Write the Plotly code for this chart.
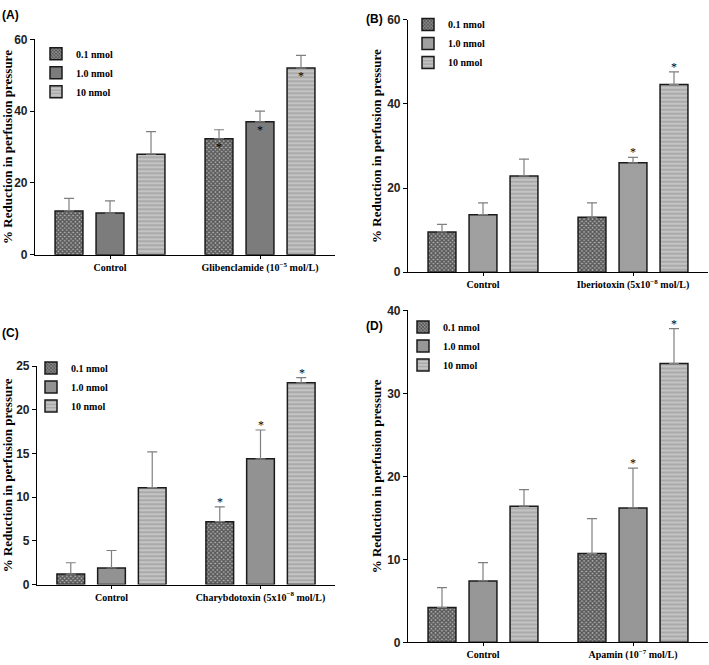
import plotly.graph_objects as go

doses = ["0.1 nmol", "1.0 nmol", "10 nmol"]

# panel A
A_groups = ["Control", "Glibenclamide (10<sup>−5</sup> mol/L)"]
A_means = [[12.2, 32.3], [11.6, 37.0], [28.0, 52.0]]
A_errs = [[3.5, 2.5], [3.4, 3.0], [6.3, 3.5]]
A_star = [[0, 1], [0, 1], [0, 1]]

# panel B
B_groups = ["Control", "Iberiotoxin (5x10<sup>−8</sup> mol/L)"]
B_means = [[9.6, 13.1], [13.7, 26.0], [22.9, 44.6]]
B_errs = [[1.8, 3.4], [2.8, 1.3], [4.0, 3.0]]
B_star = [[0, 0], [0, 1], [0, 1]]

# panel C
C_groups = ["Control", "Charybdotoxin (5x10<sup>−8</sup> mol/L)"]
C_means = [[1.2, 7.2], [1.9, 14.4], [11.1, 23.1]]
C_errs = [[1.3, 1.7], [2.0, 3.3], [4.1, 0.6]]
C_star = [[0, 1], [0, 1], [0, 1]]

# panel D
D_groups = ["Control", "Apamin (10<sup>−7</sup> mol/L)"]
D_means = [[4.2, 10.7], [7.4, 16.2], [16.4, 33.6]]
D_errs = [[2.4, 4.2], [2.2, 4.8], [2.0, 4.2]]
D_star = [[0, 0], [0, 1], [0, 1]]

W, H = 709, 665
serif = "Liberation Serif"
sans = "Liberation Sans"


def pats(mid):
    return [
        dict(shape="x", fgcolor="#000000", bgcolor="#b0b0b0", size=3, solidity=0.7),
        dict(shape=".", fgcolor="#555555", bgcolor=mid, size=2, solidity=0.4),
        dict(shape="-", fgcolor="#8a8a8a", bgcolor="#c4c4c4", size=4, solidity=0.45),
    ]


panels = [
    # label, groups, means, errs, stars, ymax, dtick, x px range, y px range(bottom, top), legend pos, label pos, star inside, bar2 tone
    ("(A)", A_groups, A_means, A_errs, A_star, 60, 20, (35, 335), (253, 33), (36, 33), (0, 8), True, "#858585"),
    ("(B)", B_groups, B_means, B_errs, B_star, 60, 20, (408, 708), (271, 13), (408, 3), (364, 12), False, "#b0b0b0"),
    ("(C)", C_groups, C_means, C_errs, C_star, 25, 5, (37, 335), (590, 367), (31, 354), (0, 333), False, "#a0a0a0"),
    ("(D)", D_groups, D_means, D_errs, D_star, 40, 10, (408, 708), (649, 310), (403, 312), (364, 326), False, "#a5a5a5"),
]

fig = go.Figure()
annotations = []

for k, (lab, groups, means, errs, stars, ymax, dtick, xr, yr, lpos, lab_pos, inside, mid) in enumerate(panels):
    n = "" if k == 0 else str(k + 1)
    xa, ya = "x" + n, "y" + n
    lg = "legend" + n
    p = pats(mid)
    for i, d in enumerate(doses):
        fig.add_trace(go.Bar(
            x=groups, y=means[i], name=d,
            xaxis=xa, yaxis=ya, legend=lg,
            marker=dict(color="#bbbbbb", pattern=p[i],
                        line=dict(color="#1a1a1a", width=1.5)),
            error_y=dict(type="data", array=errs[i], arrayminus=[0, 0], symmetric=False,
                         color="#7f7f7f", thickness=1.2, width=5),
        ))
        for j, g in enumerate(groups):
            if stars[i][j]:
                if inside:
                    yv, anc, ys = means[i][j], "top", 1
                else:
                    yv, anc, ys = means[i][j] + errs[i][j], "bottom", -4
                annotations.append(dict(
                    x=g, y=yv, xref=xa, yref=ya, text="*", showarrow=False,
                    xshift=(i - 1) * 41, yshift=ys, yanchor=anc,
                    font=dict(family=serif, size=12, color="black"),
                ))

    axx = dict(domain=[xr[0] / W, xr[1] / W], anchor=ya, showline=True, linecolor="black",
               linewidth=1.2, ticks="outside", ticklen=3, tickcolor="black",
               showgrid=False, zeroline=False,
               tickfont=dict(family=serif, size=10, color="black", weight="bold"))
    axy = dict(domain=[1 - yr[0] / H, 1 - yr[1] / H], anchor=xa, range=[0, ymax], dtick=dtick,
               showline=True, linecolor="black", linewidth=1.2, ticks="outside", ticklen=4,
               tickcolor="black", showgrid=False, zeroline=False,
               tickfont=dict(family=sans, size=12, color="#222222", weight="bold"),
               title=dict(text="% Reduction in perfusion pressure", standoff=2,
                          font=dict(family=serif, size=13, color="black", weight="bold")))
    fig.update_layout({"xaxis" + n: axx, "yaxis" + n: axy})
    fig.update_layout({lg: dict(x=lpos[0] / W, y=1 - lpos[1] / H, xanchor="left", yanchor="top",
                                bgcolor="rgba(0,0,0,0)", itemwidth=30, tracegroupgap=0,
                                font=dict(family=serif, size=10, color="black", weight="bold"))})
    annotations.append(dict(x=lab_pos[0] / W, y=1 - lab_pos[1] / H, xref="paper", yref="paper",
                            text=lab, showarrow=False, xanchor="left", yanchor="middle",
                            font=dict(family=sans, size=12, color="black", weight="bold")))

fig.update_layout(
    width=W, height=H, margin=dict(l=0, r=0, t=0, b=0),
    paper_bgcolor="white", plot_bgcolor="white",
    barmode="group", bargap=0.18, bargroupgap=0.32,
    annotations=annotations,
)

fig.write_html("out.html", config={"displayModeBar": False},
               post_script="document.body.style.margin='0';")
